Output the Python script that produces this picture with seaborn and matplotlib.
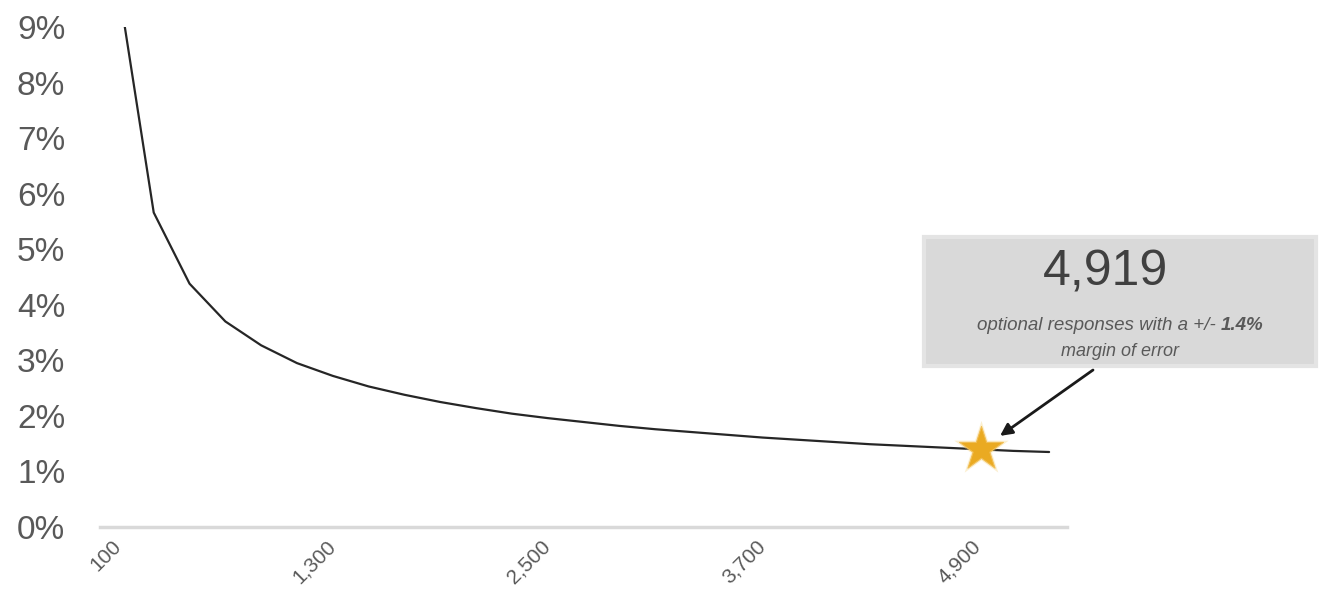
import matplotlib
matplotlib.use("Agg")
import matplotlib.pyplot as plt
from matplotlib.patches import Rectangle
import seaborn as sns
import pandas as pd

# Sample size (number of responses) and the resulting margin of error in percent
sample_sizes = [100, 300, 500, 700, 900, 1100, 1300, 1500, 1700, 1900, 2100, 2300,
                2500, 2700, 2900, 3100, 3300, 3500, 3700, 3900, 4100, 4300, 4500,
                4700, 4900, 5100, 5300]
margin_pct = [9.80, 5.66, 4.38, 3.70, 3.27, 2.95, 2.72, 2.53, 2.38, 2.25, 2.14, 2.04,
              1.96, 1.89, 1.82, 1.76, 1.71, 1.66, 1.61, 1.57, 1.53, 1.49, 1.46,
              1.43, 1.40, 1.37, 1.35]

x_ticks = [100, 1300, 2500, 3700, 4900]
x_tick_labels = ["100", "1,300", "2,500", "3,700", "4,900"]
y_ticks = [0, 1, 2, 3, 4, 5, 6, 7, 8, 9]
y_tick_labels = [f"{v}%" for v in y_ticks]

highlight_n = 4919
highlight_moe = 1.4
highlight_label = "4,919"

df = pd.DataFrame({"responses": sample_sizes, "moe": margin_pct})

sns.set_theme(style="white")
plt.rcParams["font.family"] = ["Liberation Sans", "DejaVu Sans"]

W, H, DPI = 1319, 604, 100
fig = plt.figure(figsize=(W / DPI, H / DPI), dpi=DPI)
ax = fig.add_axes([100 / W, 1 - 527 / H, 967 / W, 500 / H])

sns.lineplot(data=df, x="responses", y="moe", ax=ax, color="#262626",
             linewidth=1.6, legend=False)
# soft glow behind the highlighted point
ax.scatter([highlight_n], [highlight_moe], marker="*", s=1700, color="#F6D37A",
           alpha=0.35, linewidth=0, zorder=4)
ax.scatter([highlight_n], [highlight_moe], marker="*", s=1100, color="#EAAA22",
           edgecolor="#F1BE55", linewidth=0.8, zorder=5)

ax.set_xlim(0, 5400)
ax.set_ylim(0, 9)
ax.set_xlabel("")
ax.set_ylabel("")

ax.set_yticks(y_ticks)
ax.set_yticklabels(y_tick_labels, fontsize=24, color="#595959")
ax.set_xticks(x_ticks)
ax.set_xticklabels(x_tick_labels, fontsize=15, color="#595959", rotation=45,
                   ha="right", va="center", rotation_mode="anchor")
ax.tick_params(axis="y", length=0, pad=25)
ax.tick_params(axis="x", length=0, pad=12)

for side in ["top", "right", "left"]:
    ax.spines[side].set_visible(False)
ax.spines["bottom"].set_color("#D9D9D9")
ax.spines["bottom"].set_linewidth(2.5)

# Callout box with the highlighted sample size
box_x0, box_x1 = 924 / W, 1316 / W
box_y0, box_y1 = 1 - 366 / H, 1 - 237 / H
fig.patches.append(Rectangle((box_x0, box_y0), box_x1 - box_x0, box_y1 - box_y0,
                             transform=fig.transFigure, facecolor="#D9D9D9",
                             edgecolor="#E4E4E4", linewidth=3, zorder=0))
fig.text(1106 / W, 1 - 272 / H, highlight_label, fontsize=36, color="#404040",
         ha="center", va="center")

# First caption line: regular italic part followed by the bold value, centred together
line_y = 1 - 326 / H
part_a = fig.text(0, line_y, "optional responses with a +/- ", fontsize=13.5,
                  style="italic", color="#595959", ha="left", va="center")
part_b = fig.text(0, line_y, f"{highlight_moe}%", fontsize=13.5, style="italic",
                  weight="bold", color="#595959", ha="left", va="center")
fig.canvas.draw()
renderer = fig.canvas.get_renderer()
wa = part_a.get_window_extent(renderer).width
wb = part_b.get_window_extent(renderer).width
start_px = 1120 - (wa + wb) / 2
part_a.set_x(start_px / W)
part_b.set_x((start_px + wa) / W)

fig.text(1120 / W, 1 - 351 / H, "margin of error", fontsize=13, style="italic",
         color="#595959", ha="center", va="center")

ax.annotate("", xy=(5026, 1.64), xycoords="data",
            xytext=(1093 / W, 1 - 370 / H), textcoords="figure fraction",
            arrowprops=dict(arrowstyle="-|>", color="#1A1A1A", lw=2,
                            mutation_scale=18, shrinkA=0, shrinkB=0),
            annotation_clip=False)

fig.savefig("out.png", dpi=DPI)
